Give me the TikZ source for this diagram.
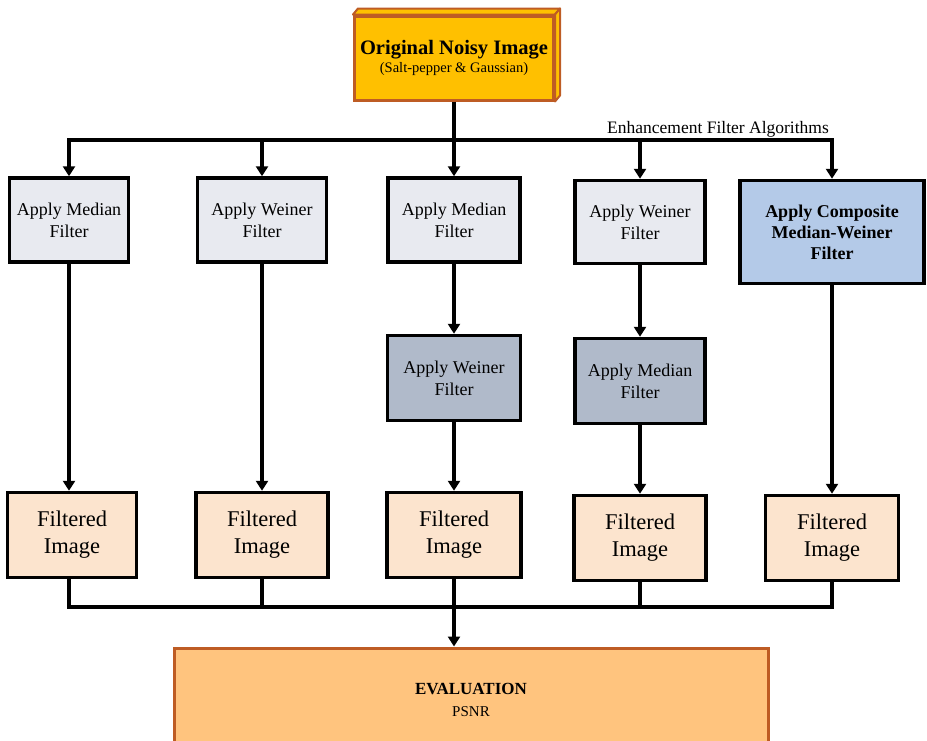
\documentclass[tikz,border=0pt]{standalone}
\usepackage{fontspec}
\setmainfont{Liberation Serif}
\usetikzlibrary{positioning,arrows.meta,calc}
\definecolor{noisyfill}{RGB}{255,192,0}
\definecolor{rimbrown}{RGB}{190,92,36}
\definecolor{boxgray}{RGB}{232,234,240}
\definecolor{boxslate}{RGB}{176,186,202}
\definecolor{boxblue}{RGB}{180,202,232}
\definecolor{boxpeach}{RGB}{252,228,206}
\definecolor{evalfill}{RGB}{255,196,126}
\tikzset{
  filterbox/.style = {shape=rectangle, draw=black, line width=3.5pt,
                      align=center, inner sep=0pt, fill=boxgray,
                      font=\fontsize{18}{22}\selectfont},
  secondbox/.style = {filterbox, fill=boxslate},
  compbox/.style   = {filterbox, fill=boxblue, font=\bfseries\fontsize{18}{21}\selectfont},
  resultbox/.style = {filterbox, fill=boxpeach, font=\fontsize{22.5}{27}\selectfont},
  sourcebox/.style = {shape=rectangle, draw=rimbrown, line width=3pt, fill=noisyfill,
                      align=center, inner sep=0pt},
  evalbox/.style   = {sourcebox, fill=evalfill},
  link/.style      = {draw, line width=3.5pt},
  flow/.style      = {link, -{Triangle[width=12pt,length=10pt]}},
}

\begin{document}
\begin{tikzpicture}[x=1pt, y=-1pt]
    \clip (0,0) rectangle (927,740);

    % source image
    \node [sourcebox, minimum width=199pt, minimum height=84pt,
           font=\bfseries\fontsize{20.5}{22}\selectfont] (noisy) at (454,58)
        {\raisebox{-4pt}{Original Noisy Image}\\[0pt]
         {\mdseries\fontsize{14.5}{16}\selectfont (Salt-pepper \& Gaussian)}};
    \draw [rimbrown, fill=noisyfill, line width=2pt, line join=round]
        (noisy.north west) -- ++(5,-6) -- ($(noisy.north east)+(5,-6)$) -- (noisy.north east) -- cycle;
    \draw [rimbrown, fill=noisyfill, line width=2pt, line join=round]
        (noisy.north east) -- ++(5,-6) -- ($(noisy.south east)+(5,-6)$) -- (noisy.south east) -- cycle;

    % first filter stage
    \node [filterbox, minimum width=119pt, minimum height=84pt] (median1) at (69,220) {Apply Median\\Filter};
    \node [filterbox, minimum width=129pt, minimum height=84pt] (weiner1) at (262,220) {Apply Weiner\\Filter};
    \node [filterbox, minimum width=132pt, minimum height=84pt] (median2) at (454,220) {Apply Median\\Filter};
    \node [filterbox, minimum width=130pt, minimum height=83pt] (weiner2) at (640,222) {Apply Weiner\\Filter};
    \node [compbox, minimum width=184pt, minimum height=103pt] (composite) at (832,232)
        {Apply Composite\\Median-Weiner\\Filter};

    % second filter stage
    \node [secondbox, minimum width=133pt, minimum height=85pt] (weiner3) at (454,378) {Apply Weiner\\Filter};
    \node [secondbox, minimum width=130pt, minimum height=85pt] (median3) at (640,381) {Apply Median\\Filter};

    % filtered images
    \node [resultbox, minimum width=129pt, minimum height=85pt] (out1) at (72,535) {Filtered\\Image};
    \node [resultbox, minimum width=132pt, minimum height=85pt] (out2) at (262,535) {Filtered\\Image};
    \node [resultbox, minimum width=134pt, minimum height=85pt] (out3) at (454,535) {Filtered\\Image};
    \node [resultbox, minimum width=132pt, minimum height=85pt] (out4) at (640,538) {Filtered\\Image};
    \node [resultbox, minimum width=133pt, minimum height=85pt] (out5) at (832,538) {Filtered\\Image};

    % evaluation
    \node [evalbox, minimum width=594pt, minimum height=104pt,
           font=\bfseries\fontsize{17}{19}\selectfont] (eval) at (471,700)
        {EVALUATION\\[3pt]
         {\mdseries\fontsize{15}{18}\selectfont PSNR}};

    \coordinate (split) at (454,140);
    \coordinate (join) at (454,607);
    \node [font=\fontsize{17.5}{20}\selectfont, anchor=south, inner sep=1pt] (algos) at (718,138)
        {Enhancement Filter Algorithms};

    % connectors
    \draw [link] (noisy) -- (split);
    \draw [flow] (split) -| (median1);
    \draw [flow] (split) -| (weiner1);
    \draw [flow] (split) -- (median2);
    \draw [flow] (split) -| (weiner2);
    \draw [flow] (split) -| (composite);

    \draw [flow] (median1) -- (median1 |- out1.north);
    \draw [flow] (weiner1) -- (out2);
    \draw [flow] (median2) -- (weiner3);
    \draw [flow] (weiner3) -- (out3);
    \draw [flow] (weiner2) -- (median3);
    \draw [flow] (median3) -- (out4);
    \draw [flow] (composite) -- (out5);

    \draw [link] (out1.south -| median1) |- (join);
    \draw [link] (out2) |- (join);
    \draw [link] (out3) -- (join);
    \draw [link] (out4) |- (join);
    \draw [link] (out5) |- (join);
    \draw [flow] (join) -- (join |- eval.north);
\end{tikzpicture}
\end{document}
